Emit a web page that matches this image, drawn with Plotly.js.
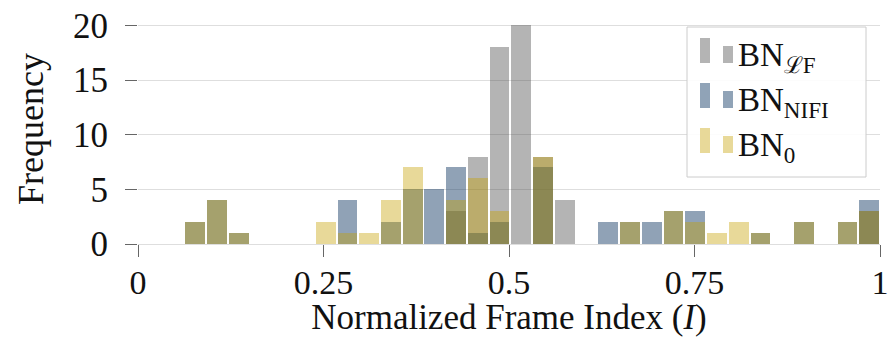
<!DOCTYPE html>
<html>
<head>
<meta charset="utf-8">
<script src="https://cdn.plot.ly/plotly-3.0.1.min.js"></script>
<style>
  html, body { margin: 0; padding: 0; background: #ffffff; }
  #chart { width: 888px; height: 337px; }
</style>
</head>
<body>
<div id="chart"></div>
<script>
// ---- data ----
const binCenters = [0.0771, 0.1064, 0.1357, 0.1650, 0.1943, 0.2236, 0.2529, 0.2822,
                    0.3115, 0.3408, 0.3701, 0.3994, 0.4287, 0.4580, 0.4873, 0.5166,
                    0.5459, 0.5752, 0.6045, 0.6338, 0.6631, 0.6924, 0.7217, 0.7510,
                    0.7803, 0.8096, 0.8389, 0.8682, 0.8975, 0.9268, 0.9561, 0.9854];
const binWidth = 0.0293;
const countsLF   = [0,0,0,0,0,0,0,0, 0,0,0,0,3,8,18,20, 8,4,0,0,0,0,0,0, 0,0,0,0,0,0,0,3];
const countsNIFI = [2,4,1,0,0,0,0,4, 0,2,5,5,7,1,2,0, 7,0,0,2,2,2,3,3, 0,0,1,0,2,0,2,4];
const countsBN0  = [2,4,1,0,0,0,2,1, 1,4,7,0,4,6,3,0, 8,0,0,0,2,0,3,2, 1,2,1,0,2,0,2,3];
const seriesNames = ["BN<sub>ℒF</sub>", "BN<sub>NIFI</sub>", "BN<sub>0</sub>"];
const xTickVals = [0, 0.25, 0.5, 0.75, 1];
const xTickText = ["0", "0.25", "0.5", "0.75", "1"];
const yTickVals = [0, 5, 10, 15, 20];

// ---- styling ----
const colors = ["rgba(67,67,67,0.4)", "rgba(9,49,93,0.45)", "rgba(197,160,0,0.4)"];
const solidLegend = ["rgb(180,180,180)", "rgb(144,163,183)", "rgb(232,217,153)"];
const FONT = "'Liberation Serif', 'Times New Roman', serif";
const allCounts = [countsLF, countsNIFI, countsBN0];
const barW = binWidth * 0.91;

const traces = allCounts.map((c, i) => ({
  type: "bar",
  x: binCenters,
  y: c,
  width: binCenters.map(() => barW),
  name: seriesNames[i],
  marker: { color: colors[i], line: { width: 0 } },
  showlegend: false,
  hoverinfo: "skip"
}));

// custom legend (box + two-bar patches + labels) in paper coords
const plotL = 138, plotT = 14, plotW = 742, plotH = 230;
const px2x = p => (p - plotL) / plotW;
const py2y = p => (plotT + plotH - p) / plotH;

const shapes = [{
  type: "rect", xref: "paper", yref: "paper", layer: "above",
  x0: px2x(687), x1: px2x(866), y0: py2y(177), y1: py2y(27),
  fillcolor: "rgba(255,255,255,0.9)", line: { color: "#cccccc", width: 1 }
}];
const annotations = [];
const rowBottoms = [63, 108, 153];
rowBottoms.forEach((b, i) => {
  shapes.push({ type: "rect", xref: "paper", yref: "paper", layer: "above",
    x0: px2x(700), x1: px2x(710), y0: py2y(b), y1: py2y(b - 25),
    fillcolor: solidLegend[i], line: { width: 0 } });
  shapes.push({ type: "rect", xref: "paper", yref: "paper", layer: "above",
    x0: px2x(723), x1: px2x(733), y0: py2y(b), y1: py2y(b - 17),
    fillcolor: solidLegend[i], line: { width: 0 } });
  annotations.push({
    xref: "paper", yref: "paper", x: px2x(736), y: py2y(b - 6),
    xanchor: "left", yanchor: "middle", showarrow: false,
    text: seriesNames[i], font: { family: FONT, size: 33, color: "#111111" }
  });
});

const layout = {
  width: 888, height: 337,
  margin: { l: plotL, r: 888 - plotL - plotW, t: plotT, b: 337 - plotT - plotH, pad: 0 },
  paper_bgcolor: "#ffffff", plot_bgcolor: "#ffffff",
  barmode: "overlay", bargap: 0,
  font: { family: FONT, size: 35, color: "#111111" },
  xaxis: {
    range: [0, 1], tickvals: xTickVals, ticktext: xTickText,
    ticks: "outside", ticklen: 12, tickwidth: 1, tickcolor: "#666666",
    ticklabeloverflow: "allow", ticklabelstandoff: -4,
    showgrid: false, zeroline: false, showline: false,
    tickfont: { family: FONT, size: 34, color: "#111111" },
    title: { text: "Normalized Frame Index (<i>I</i>)", font: { family: FONT, size: 35, color: "#111111" }, standoff: 12 }
  },
  yaxis: {
    range: [0, 230 / 10.93], tickvals: yTickVals,
    ticks: "outside", ticklen: 12, tickwidth: 1, tickcolor: "#666666",
    ticklabelstandoff: 10,
    showgrid: true, gridcolor: "#dedede", gridwidth: 1,
    zeroline: true, zerolinecolor: "#dedede", zerolinewidth: 1, showline: false,
    tickfont: { family: FONT, size: 35, color: "#111111" },
    title: { text: "Frequency", font: { family: FONT, size: 36, color: "#111111" }, standoff: 18 }
  },
  shapes: shapes,
  annotations: annotations
};

Plotly.newPlot("chart", traces, layout, { displayModeBar: false, staticPlot: true });
</script>
</body>
</html>
